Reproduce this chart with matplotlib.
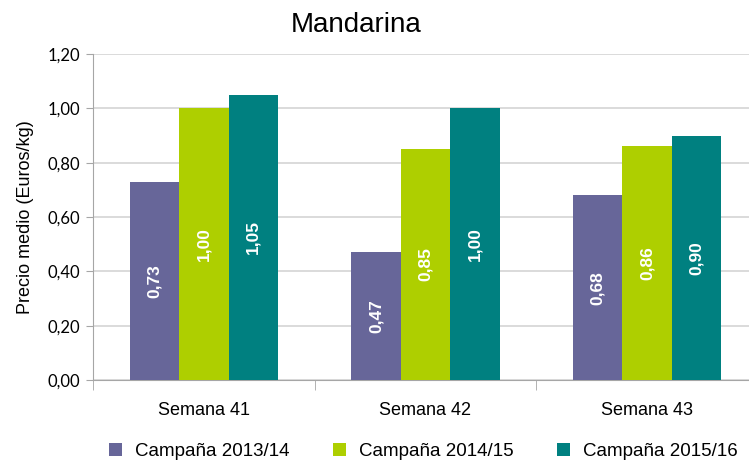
import numpy as np
import matplotlib
matplotlib.use("Agg")
import matplotlib.pyplot as plt

semanas = ["Semana 41", "Semana 42", "Semana 43"]
campanas = ["Campaña 2013/14", "Campaña 2014/15", "Campaña 2015/16"]
v_2013 = [0.73, 0.47, 0.68]
v_2014 = [1.00, 0.85, 0.86]
v_2015 = [1.05, 1.00, 0.90]
colores = ["#676699", "#AECF00", "#008080"]

plt.rcParams["font.family"] = ["Liberation Sans", "DejaVu Sans"]

fig = plt.figure(figsize=(7.49, 4.63), dpi=100)
ax = fig.add_axes([93 / 749, 83 / 463, 665 / 749, 326 / 463])

x = np.arange(len(semanas))
w = 0.223
series = [v_2013, v_2014, v_2015]
for i, (vals, col, lab) in enumerate(zip(series, colores, campanas)):
    pos = x + (i - 1) * w
    bars = ax.bar(pos, vals, width=w, color=col, label=lab, zorder=3)
    for b, v in zip(bars, vals):
        ax.text(b.get_x() + b.get_width() / 2, v / 2, f"{v:.2f}".replace(".", ","),
                rotation=90, ha="center", va="center", color="white",
                fontsize=12.5, fontweight="bold", zorder=4)

ax.set_xlim(-0.5, 2.5)
ax.set_ylim(0, 1.2)
yt = np.arange(0, 1.21, 0.2)
ax.set_yticks(yt)
ax.set_yticklabels([f"{t:.2f}".replace(".", ",") for t in yt], fontsize=12,
                   family=["Lato", "DejaVu Sans"])
ax.yaxis.grid(True, color="#D4D4D4", linewidth=1.2, zorder=0)
ax.tick_params(axis="y", length=5, color="#A6A6A6", pad=4)

ax.set_xticks(x)
ax.set_xticklabels(semanas, fontsize=13)
ax.set_xticks([-0.5, 0.5, 1.5, 2.5], minor=True)
ax.tick_params(axis="x", which="major", length=0, pad=16)
ax.tick_params(axis="x", which="minor", length=7, color="#A6A6A6")

for s in ["top", "right"]:
    ax.spines[s].set_visible(False)
ax.spines["left"].set_color("#A6A6A6")
ax.spines["bottom"].set_color("#A6A6A6")

ax.set_ylabel("Precio medio (Euros/kg)", fontsize=13, labelpad=10)
fig.text(0.476, 0.945, "Mandarina", ha="center", va="center", fontsize=20)

fig.legend(loc="lower center", bbox_to_anchor=(0.565, -0.03), ncol=3, frameon=False,
           fontsize=13.5, handlelength=0.7, handleheight=0.7, columnspacing=2.3,
           handletextpad=0.7)

fig.savefig("out.png", dpi=100)
